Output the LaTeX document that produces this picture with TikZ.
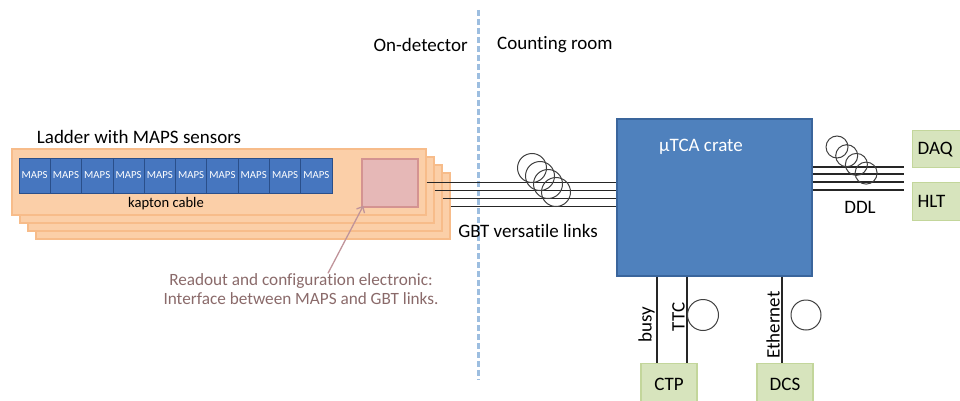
\documentclass[tikz,border=0pt]{standalone}
\usepackage{fontspec}
\setmainfont{Carlito}[Ligatures=NoCommon]
\usepackage{tikz}
\usetikzlibrary{positioning,arrows.meta,calc}
\definecolor{ladfill}{HTML}{FBCFA8}
\definecolor{laddraw}{HTML}{F7BC8A}
\definecolor{mapsblu}{HTML}{4676BF}
\definecolor{mapsdraw}{HTML}{2A4F8A}
\definecolor{rcepink}{HTML}{E6B8B7}
\definecolor{rcedraw}{HTML}{D49391}
\definecolor{notebrn}{HTML}{8A6A6A}
\definecolor{arrpink}{HTML}{C0949A}
\definecolor{crateblu}{HTML}{4F81BD}
\definecolor{cratedraw}{HTML}{3A659C}
\definecolor{grnfill}{HTML}{D7E4BD}
\definecolor{grndraw}{HTML}{C3D69B}
\definecolor{sepblu}{HTML}{9DBEE0}
\tikzset{
  txt/.style={font=\fontsize{19}{19}\selectfont,inner sep=0pt},
  ladder/.style={draw=laddraw,fill=ladfill,line width=1.2pt,minimum width=414,minimum height=66,inner sep=0pt},
  chip/.style={draw=mapsdraw,fill=mapsblu,text=white,line width=0.8pt,minimum width=31.3,minimum height=35,inner sep=0pt,font=\fontsize{10.8}{11}\selectfont},
  rcebox/.style={draw=rcedraw,fill=rcepink,line width=1.5pt,minimum width=56,minimum height=48},
  cratebox/.style={draw=cratedraw,fill=crateblu,line width=1.2pt,minimum width=195,minimum height=157},
  grnbox/.style={draw=grndraw,fill=grnfill,line width=1.2pt,inner sep=0pt,font=\fontsize{19}{19}\selectfont},
  wire/.style={draw=black!85,line width=1.1pt},
  coil/.style={draw=black!75,line width=1pt},
  sepline/.style={sepblu,line width=3pt,dash pattern=on 6pt off 3pt}
}
\begin{document}
\begin{tikzpicture}[x=1pt,y=-1pt]
  \useasboundingbox (0,0) rectangle (960,401);
  % on-detector / counting room
  \draw[sepline] (478,10) -- (478,380);
  \node[txt,anchor=east] (ondet) at (468,45){On-detector};
  \node[txt,anchor=west] (count) at (497,45){Counting room};
  % ladders
  \foreach \k in {3,2,1,0}{\node[ladder] (lad\k) at (219+8*\k,182+8*\k){};}
  \foreach \i in {0,...,9}{\node[chip] (chip\i) at (34.65+31.3*\i,175.5){MAPS};}
  \node[txt,font=\fontsize{14.6}{15}\selectfont] (kapton) at (166,204){kapton cable};
  \node[txt] (ladtitle) at (139,137){Ladder with MAPS sensors};
  \node[rcebox] (rce) at (390,183){};
  \node[txt,notebrn,align=center,font=\fontsize{17.2}{19}\selectfont] (note) at (301,289){Readout and configuration electronic:\\Interface between MAPS and GBT links.};
  \draw[arrpink,line width=1.3pt,-{Straight Barb[length=5pt,width=9pt]}] (note.north -| 328,0) -- ($(rce.south west)+(2,-2)$);
  % crate
  \node[cratebox] (crate) at (714.5,197.5){};
  \node[txt,white] (cratelbl) at (701,147){µTCA crate};
  % GBT links
  \foreach \k in {0,...,3}{\draw[wire] ($(lad\k.north east)+(0,34)$) coordinate (g\k) -- (crate.west |- g\k);}
  \foreach \k in {0,...,3}{\draw[coil] (532+8*\k,168+8*\k) circle (14.5pt);}
  \node[txt] (gbt) at (528,231){GBT versatile links};
  % DDL
  \node[grnbox,anchor=north west,text width=60,align=left,inner xsep=5pt,minimum height=37] (daq) at (912,130){DAQ};
  \node[grnbox,anchor=north west,text width=60,align=left,inner xsep=5pt,minimum height=38] (hlt) at (912,182){HLT};
  \foreach \y in {167,174,182,190}{\draw[wire] (crate.east |- 0,\y) -- ($(daq.west |- 0,\y)+(-8,0)$);}
  \foreach \k in {0,...,3}{\draw[coil] (837+9.7*\k,147+8.7*\k) circle (11pt);}
  \node[txt] (ddl) at (860,207){DDL};
  % CTP, DCS
  \node[grnbox,anchor=north,minimum width=56,minimum height=42] (ctp) at (669,363){CTP};
  \node[grnbox,anchor=north,minimum width=56,minimum height=42] (dcs) at (785,363){DCS};
  \draw[wire] (crate.south -| 657,0) -- (ctp.north -| 657,0);
  \draw[wire] (crate.south -| 687,0) -- (ctp.north -| 687,0);
  \draw[wire] (crate.south -| 782,0) -- (dcs.north -| 782,0);
  \node[txt,rotate=90,anchor=south] (busy) at (655,325){busy};
  \node[txt,rotate=90,anchor=south] (ttc) at (685,317){TTC};
  \node[txt,rotate=90,anchor=south] (eth) at (780,325){Ethernet};
  \draw[coil] (703,315) circle (15.5pt);
  \draw[coil] (806,315) circle (15pt);
\end{tikzpicture}
\end{document}
